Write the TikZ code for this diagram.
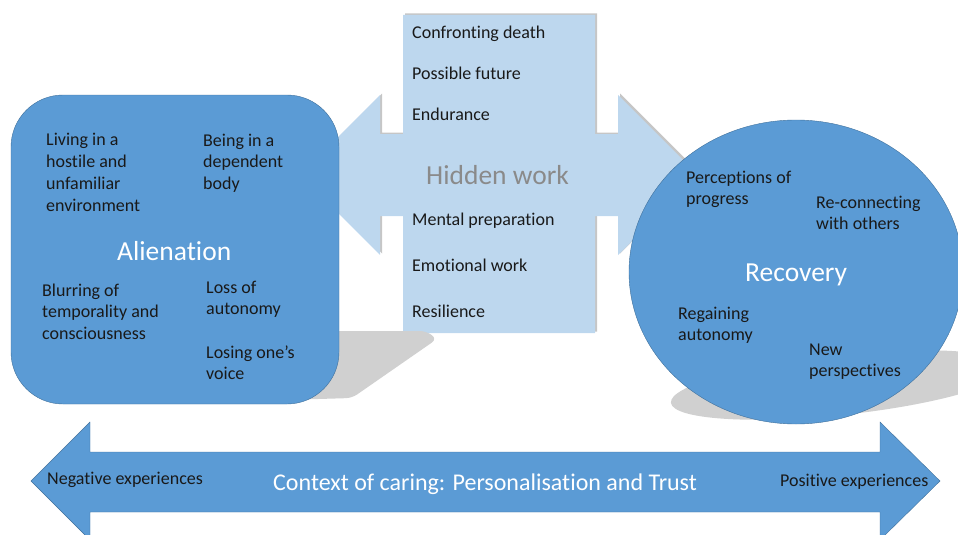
\documentclass[tikz,border=0pt]{standalone}
\usepackage{fontspec}
\setmainfont[Ligatures=NoCommon]{Carlito}
\definecolor{midblue}{HTML}{5B9BD5}
\definecolor{edgeblue}{HTML}{41719C}
\definecolor{paleblue}{HTML}{BDD7EE}
\definecolor{shadowgrey}{HTML}{D0D0D0}
\definecolor{workgrey}{HTML}{8A8A8A}
\begin{document}
\begin{tikzpicture}[x=1pt,y=-1pt,
  item/.style={anchor=base west,align=left,inner sep=0pt,
    font=\fontsize{18}{21.7}\selectfont,text=black!90},
  heading/.style={anchor=base west,inner sep=0pt,text=white,
    font=\fontsize{27.5}{30}\selectfont}]
\useasboundingbox (0,0) rectangle (958,535);
% Hidden work cross, with its faint shadow
\fill[gray!45,shift={(2,-1.5)}] (403,15) -- (595,15) -- (595,134) -- (618,134) -- (618,95) -- (698,175) -- (618,255) -- (618,216) -- (595,216) -- (595,333) -- (403,333) -- (403,216) -- (380,216) -- (380,255) -- (300,175) -- (380,95) -- (380,134) -- (403,134) -- cycle;
\fill[paleblue] (403,15) -- (595,15) -- (595,134) -- (618,134) -- (618,95) -- (698,175) -- (618,255) -- (618,216) -- (595,216) -- (595,333) -- (403,333) -- (403,216) -- (380,216) -- (380,255) -- (300,175) -- (380,95) -- (380,134) -- (403,134) -- cycle;
\node[item] (death) at (412,38) {Confronting death};
\node[item] (future) at (412,79) {Possible future};
\node[item] (endure) at (412,120) {Endurance};
\node[heading,text=workgrey] (hidden) at (426,184) {Hidden work};
\node[item] (mental) at (412,225) {Mental preparation};
\node[item] (emotion) at (412,271) {Emotional work};
\node[item] (resilience) at (412,317) {Resilience};
% Shadows
\fill[shadowgrey,rounded corners=6] (150,331) -- (426,331) -- (437,339) -- (352,398) -- (150,404) -- cycle;
\fill[shadowgrey,rotate around={6:(840,385)}] (840,385) ellipse [x radius=170,y radius=30];
% Alienation box (multi-line texts sit on their last baseline)
\draw[edgeblue,fill=midblue,rounded corners=52] (11,95) rectangle (339,404);
\node[item] (hostile) at (46,211) {Living in a\\hostile and\\unfamiliar\\environment};
\node[item] (body) at (203,189.4) {Being in a\\dependent\\body};
\node[heading] (alienation) at (117,260) {Alienation};
\node[item] (blurring) at (42,339.4) {Blurring of\\temporality and\\consciousness};
\node[item] (autonomy) at (206,314.7) {Loss of\\autonomy};
\node[item] (voice) at (206,379.7) {Losing one’s\\voice};
% Recovery circle
\draw[edgeblue,fill=midblue] (796,272) ellipse [x radius=167,y radius=152];
\node[item] (progress) at (686,204.7) {Perceptions of\\progress};
\node[item] (others) at (816,229.7) {Re-connecting\\with others};
\node[heading] (recovery) at (745,281) {Recovery};
\node[item] (regain) at (678,340.7) {Regaining\\autonomy};
\node[item] (newpersp) at (809,376.7) {New\\perspectives};
% Context arrow
\draw[edgeblue,fill=midblue] (31,481) -- (90,422) -- (90,452) -- (880,452) -- (880,422) -- (940,481) -- (880,540) -- (880,512) -- (90,512) -- (90,540) -- cycle;
\node[item] (negative) at (47,484) {Negative experiences};
\node[heading,font=\fontsize{24}{26}\selectfont] (context) at (273,490) {Context of caring: Personalisation and Trust};
\node[item] (positive) at (780,486) {Positive experiences};
\end{tikzpicture}
\end{document}
